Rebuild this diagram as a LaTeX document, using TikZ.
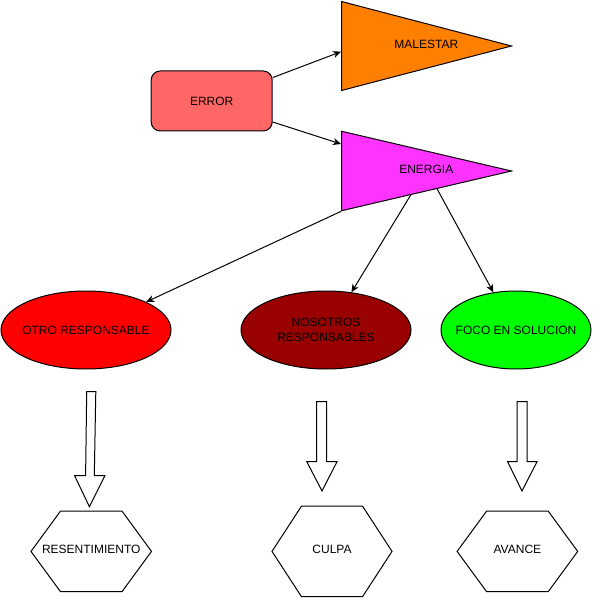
\documentclass[tikz,border=0pt]{standalone}
\usepackage{fontspec}
\setmainfont{Liberation Sans}
\usetikzlibrary{arrows.meta,positioning,calc,shapes.geometric}
\definecolor{perror}{HTML}{FF6666}
\definecolor{pmal}{HTML}{FF8000}
\definecolor{pene}{HTML}{FF33FF}
\definecolor{potro}{HTML}{FF0000}
\definecolor{pnos}{HTML}{990000}
\definecolor{pfoco}{HTML}{00FF00}
\tikzset{
  % Filled shapes with a thin black stroke.
  rbox/.style  = {rectangle, rounded corners=9pt, draw=black, fill=#1, line width=1pt,
                  minimum width=121pt, minimum height=60pt, inner sep=0pt, font=\lblfont},
  tri/.style   = {isosceles triangle, isosceles triangle stretches, shape border rotate=0,
                  draw=black, fill=#1, line width=1pt, minimum height=170pt, inner sep=0pt},
  oval/.style  = {ellipse, draw=black, fill=#1, line width=1pt, minimum height=78pt,
                  inner xsep=-30pt, inner ysep=0pt, align=center, font=\lblfont},
  lbl/.style   = {font=\lblfont, align=center, inner sep=0pt},
  hexline/.style = {draw=black, line width=1pt},
  blockarr/.style = {draw=black, fill=white, line width=1pt, line join=miter},
  arr/.style   = {-{Stealth[length=8pt,width=7pt,inset=2.5pt]}, line width=1pt, black},
}
\newcommand{\lblfont}{\fontsize{12}{15}\selectfont}

\begin{document}
\begin{tikzpicture}[x=1pt,y=-1pt]
\useasboundingbox (0,0) rectangle (593,601);
% --- top: error and its two outcomes -----------------------------------
\node[rbox=perror] (error) at (211.7,101) {ERROR};
\node[tri=pmal, minimum width=89pt, anchor=lower side] (mal) at (341,46) {};
\node[lbl] (maltxt) at (426.3,44.3) {MALESTAR};
\node[tri=pene, minimum width=79.5pt, anchor=lower side] (ene) at (341,171) {};
\node[lbl] (enetxt) at (426.3,169.7) {ENERGIA};
\draw[arr] (error.21) -- ($(mal.lower side)+(0,5.7)$);
\draw[arr] (error.-19) -- ($(ene.lower side)+(0,-27)$);
% --- middle: where the energy goes --------------------------------------
\node[oval=potro, minimum width=170pt] (otro) at (86,330) {OTRO RESPONSABLE};
\node[oval=pnos, minimum width=170pt] (nos) at (326,330) {NOSOTROS\\RESPONSABLES};
\node[oval=pfoco, minimum width=150pt] (foco) at (516,330) {FOCO EN SOLUCION};
\draw[arr] (ene.right corner) -- (otro.25);
\draw[arr] ($(ene.right corner)!0.406!(ene.apex)$) -- (nos.56);
\draw[arr] ($(ene.right corner)!0.559!(ene.apex)$) -- (foco.121);
% --- hollow block arrows -------------------------------------------------
\draw[blockarr] (86.7,391.7) -- (95.8,391.7) -- (94.3,475.7) -- (104.9,475.7)
  -- (89.4,506.7) -- (74.6,475.7) -- (85.6,475.7) -- cycle;
\draw[blockarr] (316.7,401.7) -- (326.5,401.7) -- (326.5,461.7) -- (337,461.7)
  -- (322,491) -- (306.8,461.7) -- (316.7,461.7) -- cycle;
\draw[blockarr] (517,401.7) -- (527,401.7) -- (527,461.7) -- (537,461.7)
  -- (522,491) -- (507.6,461.7) -- (517,461.7) -- cycle;
% --- bottom: hexagons ----------------------------------------------------
\foreach \nm/\cx/\hw/\hh/\txt in {resent/91.25/60.25/40.3/RESENTIMIENTO,
    culpa/332/60/45.3/CULPA, avance/517.4/60.3/40.3/AVANCE}{
  \draw[hexline] (\cx-\hw,551.4) -- (\cx-\hw+29.5,551.4-\hh) -- (\cx+\hw-29.5,551.4-\hh)
    -- (\cx+\hw,551.4) -- (\cx+\hw-29.5,551.4+\hh) -- (\cx-\hw+29.5,551.4+\hh) -- cycle;
  \node[lbl] (\nm) at (\cx,549.5) {\txt};
}
\end{tikzpicture}
\end{document}
